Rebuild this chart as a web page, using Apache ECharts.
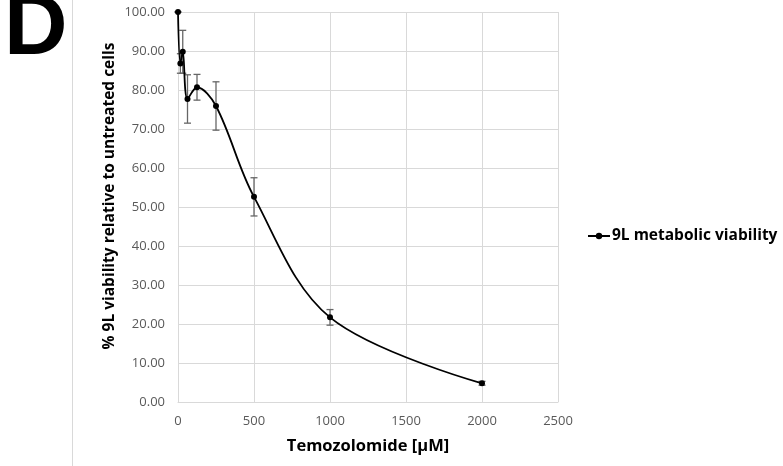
<!DOCTYPE html>
<html><head><meta charset="utf-8">
<script src="https://cdn.jsdelivr.net/npm/echarts@6/dist/echarts.min.js"></script>
<style>html,body{margin:0;padding:0;background:#fff}#c{width:783px;height:466px}</style>
</head><body><div id="c"></div>
<script>
var concentrations = [0, 15.625, 31.25, 62.5, 125, 250, 500, 1000, 2000];
var viability = [100.0, 86.8, 89.8, 77.7, 80.7, 75.9, 52.6, 21.7, 4.8];
var errors = [0, 2.5, 5.5, 6.2, 3.3, 6.2, 4.9, 2.0, 0.5];
var seriesName = '9L metabolic viability';
var xTitle = 'Temozolomide [\u00b5M]';
var yTitle = '% 9L viability relative to untreated cells';
var panelLabel = 'D';

var pts = concentrations.map(function(x, i){ return [x, viability[i]]; });
var errData = concentrations.map(function(x, i){ return [x, viability[i] - errors[i], viability[i] + errors[i]]; });

var chart = echarts.init(document.getElementById('c'));
var font = "'Open Sans', 'Noto Sans', sans-serif";
chart.setOption({
  animation: false,
  textStyle: {fontFamily: font},
  grid: {left: 178, top: 12, right: 225, bottom: 64, containLabel: false},
  legend: {
    data: [seriesName], left: 582, top: 223, orient: 'vertical',
    itemWidth: 22, itemHeight: 8, itemGap: 4,
    textStyle: {fontSize: 15.5, fontWeight: 'bold', color: '#000', fontFamily: font, padding: [0,0,0,-3]}
  },
  xAxis: {
    type: 'value', min: 0, max: 2500, interval: 500,
    name: xTitle, nameLocation: 'middle', nameGap: 36,
    nameTextStyle: {fontSize: 16.5, fontWeight: 'bold', color: '#000', fontFamily: font},
    axisLine: {show: true, lineStyle: {color: '#d9d9d9'}},
    axisTick: {show: false},
    axisLabel: {color: '#595959', fontSize: 13, margin: 13, formatter: function(v){ return String(v); }},
    splitLine: {show: true, lineStyle: {color: '#d9d9d9'}}
  },
  yAxis: {
    type: 'value', min: 0, max: 100, interval: 10,
    name: yTitle, nameLocation: 'middle', nameGap: 60, nameRotate: 90,
    nameTextStyle: {fontSize: 15.5, fontWeight: 'bold', color: '#000', fontFamily: font, padding: [0, 0, 0, 22]},
    axisLine: {show: false}, axisTick: {show: false},
    axisLabel: {color: '#595959', fontSize: 13, margin: 13, formatter: function(v){ return v.toFixed(2); }},
    splitLine: {show: true, lineStyle: {color: '#d9d9d9'}}
  },
  graphic: [
    {type: 'text', left: 4, top: -14, style: {text: panelLabel, fontSize: 88, fontWeight: 'bold', fill: '#000', fontFamily: "'Liberation Sans', Arial, sans-serif"}},
    {type: 'line', shape: {x1: 72.5, y1: 0, x2: 72.5, y2: 466}, style: {stroke: '#d9d9d9', lineWidth: 1}}
  ],
  series: [
    {
      type: 'custom', name: 'err', silent: true, z: 1,
      data: errData,
      renderItem: function(params, api){
        var x = api.value(0);
        var lo = api.coord([x, api.value(1)]);
        var hi = api.coord([x, api.value(2)]);
        var w = 3.5;
        var st = {stroke: '#666666', lineWidth: 1.3};
        return {type: 'group', children: [
          {type: 'line', shape: {x1: lo[0], y1: lo[1], x2: hi[0], y2: hi[1]}, style: st},
          {type: 'line', shape: {x1: lo[0]-w, y1: lo[1], x2: lo[0]+w, y2: lo[1]}, style: st},
          {type: 'line', shape: {x1: hi[0]-w, y1: hi[1], x2: hi[0]+w, y2: hi[1]}, style: st}
        ]};
      },
      encode: {x: 0, y: [1, 2]}
    },
    {
      type: 'line', name: seriesName, data: pts, smooth: 0.35, z: 3,
      symbol: 'circle', symbolSize: 6,
      lineStyle: {color: '#000', width: 1.8},
      itemStyle: {color: '#000'}
    }
  ]
});
</script></body></html>
